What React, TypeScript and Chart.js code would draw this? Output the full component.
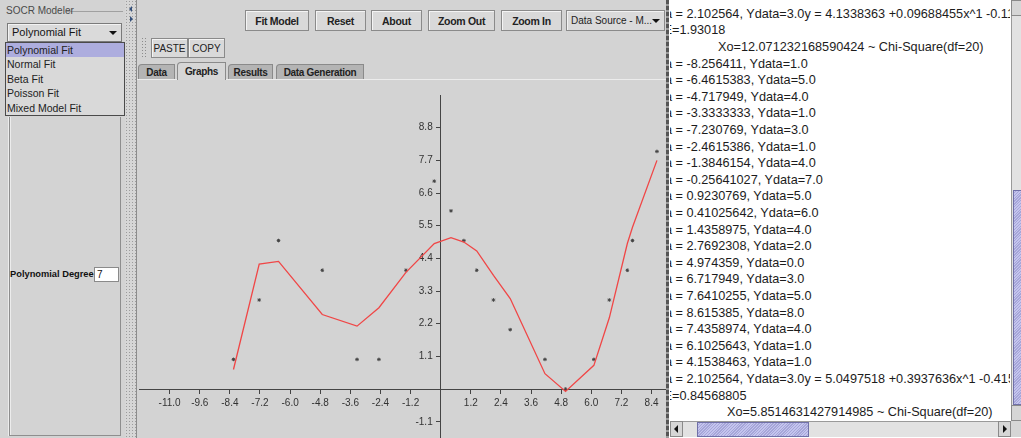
import React, { useEffect, useRef } from "react";
import { Chart, registerables } from "chart.js";
Chart.register(...registerables);

// ---- data ----
const xData = [-8.256411, -6.4615383, -4.717949, -3.3333333, -7.230769, -2.4615386, -1.3846154, -0.25641027, 0.9230769, 0.41025642, 1.4358975, 2.7692308, 4.974359, 6.717949, 7.6410255, 8.615385, 7.4358974, 6.1025643, 4.1538463, 2.102564];
const yData = [1, 5, 4, 1, 3, 1, 4, 7, 5, 6, 4, 2, 0, 3, 5, 8, 4, 1, 1, 3];
const fitX = [-8.256411, -7.230769, -6.4615383, -4.717949, -3.3333333, -2.4615386, -1.3846154, -0.25641027, 0.41025642, 0.9230769, 1.4358975, 2.102564, 2.7692308, 4.1538463, 4.974359, 6.1025643, 6.717949, 7.4358974, 7.6410255, 8.615385];
const fitY = [0.66, 4.21, 4.3, 2.51, 2.12, 2.74, 3.93, 4.9, 5.1, 4.95, 4.65, 3.83, 3.05, 0.52, -0.08, 0.8, 2.4, 4.9, 5.45, 7.7];
const xTickValues = [-10.8, -9.6, -8.4, -7.2, -6.0, -4.8, -3.6, -2.4, -1.2, 1.2, 2.4, 3.6, 4.8, 6.0, 7.2, 8.4];
const xTickLabels = ["-11.0", "-9.6", "-8.4", "-7.2", "-6.0", "-4.8", "-3.6", "-2.4", "-1.2", "1.2", "2.4", "3.6", "4.8", "6.0", "7.2", "8.4"];
const yTickValues = [-1.1, 1.1, 2.2, 3.3, 4.4, 5.5, 6.6, 7.7, 8.8];
const yTickLabels = ["-1.1", "1.1", "2.2", "3.3", "4.4", "5.5", "6.6", "7.7", "8.8"];

const modelItems = ["Polynomial Fit", "Normal Fit", "Beta Fit", "Poisson Fit", "Mixed Model Fit"];
const toolButtons = ["Fit Model", "Reset", "About", "Zoom Out", "Zoom In"];
const tabNames = ["Data", "Graphs", "Results", "Data Generation"];

const fit1Eq = "y = 4.1338363 +0.09688455x^1 -0.11";
const fit1Mse = "=1.93018";
const fit1Chi = "Xo=12.071232168590424 ~ Chi-Square(df=20)";
const fit2Eq = "y = 5.0497518 +0.3937636x^1 -0.415";
const fit2Mse = "=0.84568805";
const fit2Chi = "Xo=5.8514631427914985 ~ Chi-Square(df=20)";

const X_MIN = -12.02, X_MAX = 8.976, Y_MIN = -1.646, Y_MAX = 9.9;

const FONT = '"Liberation Sans", Arial, sans-serif';
const BG = "#d3d3d3";

function Box(p: { x: number; y: number; w: number; h: number; style?: any; children?: any }) {
  return (
    <div style={{ position: "absolute", left: p.x, top: p.y, width: p.w, height: p.h, boxSizing: "border-box", ...(p.style || {}) }}>
      {p.children}
    </div>
  );
}

function Button(p: { x: number; y: number; w: number; h: number; label: string; bold?: boolean }) {
  return (
    <Box x={p.x} y={p.y} w={p.w} h={p.h} style={{ background: "#d9d9d9", border: "1px solid #8a8a8a", boxShadow: "inset 1px 1px 0 #f4f4f4", display: "flex", alignItems: "center", justifyContent: "center", fontFamily: FONT, fontSize: p.bold ? 10.5 : 10, fontWeight: p.bold ? "bold" : "normal", color: "#222", whiteSpace: "nowrap", letterSpacing: p.bold ? -0.3 : 0 }}>
      {p.label}
    </Box>
  );
}

function Arrow(p: { x: number; y: number; dir: "down" | "left" | "right" | "up"; size?: number; color?: string }) {
  const s = p.size || 4;
  const c = p.color || "#222";
  const st: any = { position: "absolute", left: p.x, top: p.y, width: 0, height: 0 };
  if (p.dir === "down") Object.assign(st, { borderLeft: `${s}px solid transparent`, borderRight: `${s}px solid transparent`, borderTop: `${s}px solid ${c}` });
  if (p.dir === "up") Object.assign(st, { borderLeft: `${s}px solid transparent`, borderRight: `${s}px solid transparent`, borderBottom: `${s}px solid ${c}` });
  if (p.dir === "left") Object.assign(st, { borderTop: `${s}px solid transparent`, borderBottom: `${s}px solid transparent`, borderRight: `${s}px solid ${c}` });
  if (p.dir === "right") Object.assign(st, { borderTop: `${s}px solid transparent`, borderBottom: `${s}px solid transparent`, borderLeft: `${s}px solid ${c}` });
  return <div style={st} />;
}

// y-axis placed at x=0: move its labels to the left of the tick marks
const yLabelShift = {
  id: "yLabelShift",
  beforeDraw(chart: any) {
    const s = chart.scales.y;
    if (!s) return;
    const items = s.getLabelItems(chart.chartArea);
    items.forEach((it: any) => {
      if (it.__shifted) return;
      const t = it.options.translation;
      it.options.translation = [t[0] - 8, t[1]];
      it.__shifted = true;
    });
  },
};

function PlotChart() {
  const ref = useRef<HTMLCanvasElement | null>(null);
  useEffect(() => {
    if (!ref.current) return;
    const tickFont = { family: FONT, size: 10 };
    const chart = new Chart(ref.current, {
      type: "scatter",
      data: {
        datasets: [
          {
            data: fitX.map((x, i) => ({ x, y: fitY[i] })),
            showLine: true,
            borderColor: "#f04646",
            borderWidth: 1.3,
            pointRadius: 0,
            hoverRadius: 0,
            tension: 0,
          } as any,
          {
            data: xData.map((x, i) => ({ x, y: yData[i] })),
            pointStyle: "star",
            pointRadius: 1.8,
            hoverRadius: 0,
            borderColor: "#444",
            backgroundColor: "#444",
            borderWidth: 1,
          } as any,
        ],
      },
      options: {
        animation: false,
        responsive: false,
        maintainAspectRatio: false,
        events: [],
        layout: { padding: 0, autoPadding: false },
        plugins: { legend: { display: false }, tooltip: { enabled: false } },
        scales: {
          x: {
            type: "linear",
            min: X_MIN,
            max: X_MAX,
            position: { y: 0 } as any,
            afterBuildTicks: (s: any) => { s.ticks = xTickValues.map((v) => ({ value: v })); },
            afterFit: (s: any) => { s.height = 0; s.paddingLeft = 0; s.paddingRight = 0; s.paddingTop = 0; s.paddingBottom = 0; },
            ticks: { autoSkip: false, maxRotation: 0, padding: 4, color: "#333", font: tickFont, callback: (_v: any, i: number) => xTickLabels[i] },
            grid: { drawOnChartArea: false, drawTicks: true, tickLength: 4, color: "#444", lineWidth: 1 },
            border: { display: true, color: "#444", width: 1 },
          },
          y: {
            type: "linear",
            min: Y_MIN,
            max: Y_MAX,
            position: { x: 0 } as any,
            afterBuildTicks: (s: any) => { s.ticks = yTickValues.map((v) => ({ value: v })); },
            afterFit: (s: any) => { s.width = 0; s.paddingLeft = 0; s.paddingRight = 0; s.paddingTop = 0; s.paddingBottom = 0; },
            ticks: { autoSkip: false, padding: 3, color: "#333", font: tickFont, callback: (_v: any, i: number) => yTickLabels[i] },
            grid: { drawOnChartArea: false, drawTicks: true, tickLength: 4, color: "#444", lineWidth: 1 },
            border: { display: true, color: "#444", width: 1 },
          },
        },
      } as any,
      plugins: [yLabelShift],
    });
    return () => chart.destroy();
  }, []);
  return <canvas ref={ref} width={527} height={343} style={{ position: "absolute", left: 139, top: 95, width: 527, height: 343 }} />;
}

function LogLine(p: { i: number; prefix: string; text: string; indent?: number }) {
  const top = 14 + 16.6 * p.i - 8.3;
  if (p.indent) {
    return <div style={{ position: "absolute", left: p.indent, top, height: 16.6, lineHeight: "16.6px", whiteSpace: "pre" }}>{p.text}</div>;
  }
  return (
    <div style={{ position: "absolute", left: 0, top, width: 0, height: 16.6, lineHeight: "16.6px", whiteSpace: "pre" }}>
      <span style={{ position: "absolute", right: -2, top: 0 }}>{p.prefix}</span>
      <span style={{ position: "absolute", left: 2, top: 0 }}>{p.text}</span>
    </div>
  );
}

export default function App() {
  const dataText = xData.map((x, i) => ` = ${x}, Ydata=${yData[i].toFixed(1)}`);
  const last = dataText.length - 1;
  const lines: any[] = [];
  let k = 0;
  lines.push(<LogLine key={k} i={k++} prefix="Xdata" text={dataText[last] + fit1Eq} />);
  lines.push(<LogLine key={k} i={k++} prefix="MSE" text={fit1Mse} />);
  lines.push(<LogLine key={k} i={k++} prefix="" text={fit1Chi} indent={48} />);
  dataText.slice(0, last).forEach((t) => { lines.push(<LogLine key={k} i={k++} prefix="Xdata" text={t} />); });
  lines.push(<LogLine key={k} i={k++} prefix="Xdata" text={dataText[last] + fit2Eq} />);
  lines.push(<LogLine key={k} i={k++} prefix="MSE" text={fit2Mse} />);
  lines.push(<LogLine key={k} i={k++} prefix="" text={fit2Chi} indent={57} />);

  const tabX = [[138, 37], [177, 49], [228, 45], [276, 88]];
  const btnX = [[245, 64], [315, 51], [371, 51], [428, 67], [501, 61]];

  return (
    <div style={{ position: "absolute", left: 0, top: 0, width: 1021, height: 438, overflow: "hidden", background: "#fff", fontFamily: FONT }}>
      {/* left panel */}
      <Box x={0} y={0} w={125} h={438} style={{ background: BG }} />
      <Box x={66} y={11} w={57} h={1} style={{ background: "#a0a0a0" }} />
      <Box x={6} y={4} w={70} h={14} style={{ fontSize: 10, color: "#4a4a4a", lineHeight: "14px", whiteSpace: "nowrap" }}>SOCR Modeler</Box>
      <Box x={9} y={117} w={112} h={319} style={{ borderLeft: "1px solid #8e8e8e", borderRight: "1px solid #8e8e8e", borderBottom: "1px solid #8e8e8e", boxShadow: "inset 1px 0 0 #ececec, -1px 0 0 #ececec" }} />
      <Box x={7} y={23} w={115} h={19} style={{ background: "#dadada", border: "1px solid #7a7a7a", boxShadow: "inset 1px 1px 0 #f2f2f2", fontSize: 11, color: "#151515", lineHeight: "17px", paddingLeft: 4, whiteSpace: "nowrap" }}>
        Polynomial Fit
      </Box>
      <Arrow x={109} y={31} dir="down" size={4} color="#111" />
      <Box x={5} y={42} w={120} h={74} style={{ background: "#d9d9d9", border: "1px solid #4a4a4a" }}>
        {modelItems.map((m, i) => (
          <div key={m} style={{ height: 14.4, lineHeight: "14.4px", fontSize: 10.5, color: "#222", paddingLeft: 1, background: i === 0 ? "#adadde" : "transparent", whiteSpace: "nowrap" }}>{m}</div>
        ))}
      </Box>
      <Box x={10} y={266} w={86} h={16} style={{ fontSize: 9.3, fontWeight: "bold", color: "#111", lineHeight: "16px", whiteSpace: "nowrap" }}>Polynomial Degree</Box>
      <Box x={94} y={267} w={25} h={15} style={{ background: "#fff", border: "1px solid #8a8a8a", fontSize: 10, lineHeight: "13px", paddingLeft: 2, color: "#111" }}>7</Box>

      {/* left splitter */}
      <Box x={125} y={0} w={12} h={438} style={{ background: "#d6d6d6", backgroundImage: "radial-gradient(#9c9c9c 0.7px, transparent 0.8px)", backgroundSize: "3px 3px", borderRight: "1px solid #8c8c8c" }} />
      <Arrow x={129} y={6} dir="left" size={3} color="#34507a" />
      <Arrow x={130} y={16} dir="right" size={3} color="#34507a" />

      {/* main panel */}
      <Box x={137} y={0} w={530} h={438} style={{ background: BG }} />
      {toolButtons.map((b, i) => (
        <Button key={b} x={btnX[i][0]} y={10} w={btnX[i][1]} h={21} label={b} bold />
      ))}
      <Box x={566} y={10} w={99} h={21} style={{ background: "#dadada", border: "1px solid #8a8a8a", boxShadow: "inset 1px 1px 0 #f2f2f2", fontSize: 10, color: "#222", lineHeight: "19px", paddingLeft: 4, whiteSpace: "nowrap" }}>Data Source - M...</Box>
      <Arrow x={652} y={19} dir="down" size={4} color="#111" />
      <Box x={141} y={37} w={7} h={21} style={{ backgroundImage: "radial-gradient(#8c8c8c 0.7px, transparent 0.8px)", backgroundSize: "3px 3px" }} />
      <Button x={151} y={38} w={37} h={20} label="PASTE" />
      <Button x={188} y={38} w={37} h={20} label="COPY" />
      {tabNames.map((t, i) => {
        const sel = i === 1;
        return (
          <Box key={t} x={tabX[i][0]} y={sel ? 62 : 64} w={tabX[i][1]} h={sel ? 18 : 15} style={{ background: sel ? "#d6d6d6" : "#b4b4b4", borderTop: "1px solid #8a8a8a", borderLeft: "1px solid #8a8a8a", borderRight: "1px solid #8a8a8a", borderTopLeftRadius: 4, fontSize: 10, fontWeight: "bold", color: "#222", display: "flex", alignItems: "center", justifyContent: "center", whiteSpace: "nowrap", letterSpacing: -0.3, zIndex: sel ? 2 : 1 }}>{t}</Box>
        );
      })}
      <Box x={137} y={79} w={530} h={1} style={{ background: "#ececec" }} />
      <PlotChart />

      {/* dashed divider */}
      <Box x={666} y={0} w={3} h={438} style={{ background: "repeating-linear-gradient(to bottom, #555 0 4px, #9a9a9a 4px 6px)" }} />

      {/* right text area */}
      <Box x={669} y={0} w={352} h={438} style={{ background: "#fff" }} />
      <Box x={670} y={0} w={340} h={421} style={{ overflow: "hidden", fontSize: 12.7, color: "#1c1c1c" }}>{lines}</Box>

      {/* vertical scrollbar */}
      <Box x={1011} y={0} w={16} h={421} style={{ background: "#e2e2e2", borderLeft: "1px solid #9a9a9a" }} />
      <Box x={1011} y={0} w={16} h={16} style={{ background: "#d6d6d6", border: "1px solid #8a8a8a" }} />
      <Box x={1013} y={190} w={14} h={215} style={{ background: "repeating-linear-gradient(135deg, #c4c4ee 0 1px, #a6a6d8 1px 2px)", border: "1px solid #7070a8" }} />
      <Box x={1011} y={405} w={16} h={16} style={{ background: "#d6d6d6", border: "1px solid #8a8a8a" }} />

      {/* horizontal scrollbar */}
      <Box x={670} y={421} w={341} h={16} style={{ background: "#e2e2e2", borderTop: "1px solid #9a9a9a" }} />
      <Box x={670} y={421} w={13} h={16} style={{ background: "#d6d6d6", border: "1px solid #8a8a8a" }} />
      <Arrow x={674} y={425} dir="left" size={4} color="#111" />
      <Box x={697} y={422} w={112} h={15} style={{ background: "repeating-linear-gradient(135deg, #c4c4ee 0 1px, #a6a6d8 1px 2px)", border: "1px solid #7070a8" }} />
      <Box x={998} y={421} w={13} h={16} style={{ background: "#d6d6d6", border: "1px solid #8a8a8a" }} />
      <Arrow x={1003} y={425} dir="right" size={4} color="#111" />
      <Box x={1011} y={421} w={10} h={16} style={{ background: "#d6d6d6" }} />
    </div>
  );
}
